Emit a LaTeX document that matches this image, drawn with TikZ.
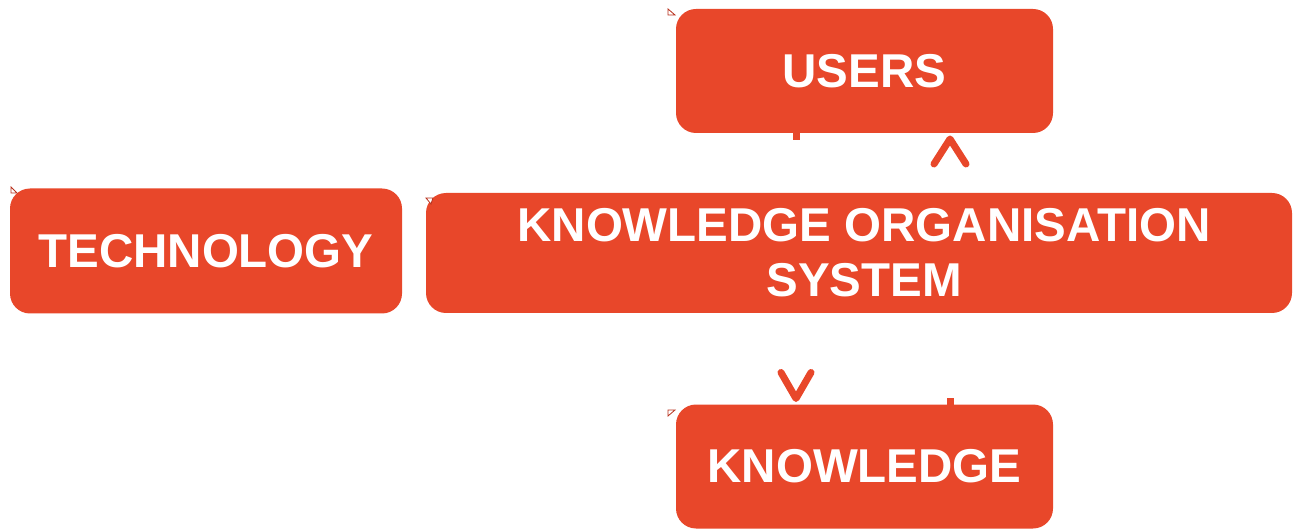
\documentclass[tikz,border=0pt]{standalone}
\usepackage{fontspec}
\setmainfont{Liberation Sans}
\usetikzlibrary{calc}
\definecolor{kosred}{HTML}{E8472A}
\definecolor{markred}{HTML}{B8301C}
\tikzset{
  box/.style={fill=kosred, draw=none, rounded corners=20pt, text=white,
    font=\fontsize{47.5}{55}\selectfont\bfseries, align=center,
    inner sep=0pt, outer sep=0pt},
  boxtext/.style={text=white, font=\fontsize{47.5}{55}\selectfont\bfseries,
    align=center, inner sep=0pt},
  tickmark/.style={draw=kosred, line width=7pt},
  chev/.style={draw=kosred, line width=7pt, line cap=round, line join=round},
  cornermark/.style={draw=markred, line width=0.8pt, fill=white}
}
\begin{document}
\begin{tikzpicture}[x=1pt,y=-1pt]
\useasboundingbox (0,0) rectangle (1293,529);

% the four blocks
\node[box, minimum width=377pt, minimum height=124pt] (users) at (864.5,71) {USERS};
\node[box, minimum width=392pt, minimum height=125pt] (tech) at (206,251) {TECHNOLOGY};
\node[box, minimum width=866pt, minimum height=120pt] (kos) at (859,253) {};
\node[boxtext] (koslabel) at ([xshift=5pt]kos.center) {KNOWLEDGE ORGANISATION\\SYSTEM};
\node[box, minimum width=377pt, minimum height=124pt] (know) at (864.5,466.5) {KNOWLEDGE};

% small corner markers
\draw[cornermark] (668,9) -- (668,15) -- (675,15) -- cycle;
\draw[cornermark] (11,187) -- (11,193) -- (17,193) -- cycle;
\draw[cornermark] (426,198) -- (433,198) -- (431,204) -- cycle;
\draw[cornermark] (668,410) -- (675,410) -- (668,416) -- cycle;

% connector stubs between USERS and the system
\coordinate (colA) at (796,0);
\coordinate (colB) at (950,0);
\draw[tickmark] (users.south -| colA) -- ++(0,7);
\draw[chev] ($(users.south -| colB)+(-16,31)$) -- ($(users.south -| colB)+(0,6)$) -- ++(16,25);

% connector stubs between the system and KNOWLEDGE
\draw[chev] ($(know.north -| colA)+(-15,-32)$) -- ($(know.north -| colA)+(0,-6)$) -- ++(15,-26);
\draw[tickmark] (know.north -| colB) -- ++(0,-7);
\end{tikzpicture}
\end{document}
